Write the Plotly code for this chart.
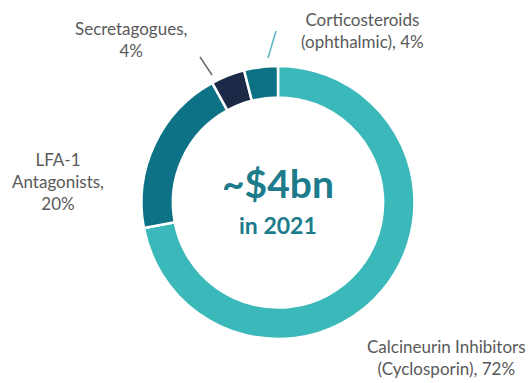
import plotly.graph_objects as go

# Market segments, clockwise from 12 o'clock
segments = ["Calcineurin Inhibitors (Cyclosporin)", "LFA-1 Antagonists",
            "Secretagogues", "Corticosteroids (ophthalmic)"]
shares = [72, 20, 4, 4]
colors = ["#3BB9BA", "#0D7285", "#1B2A47", "#0C7183"]

W, H = 531, 383
FONT = "Lato"
LABEL_COLOR = "#595959"


def px(x):
    return x / W


def py(y):
    return 1 - y / H


fig = go.Figure(go.Pie(
    labels=segments,
    values=shares,
    sort=False,
    direction="clockwise",
    rotation=0,
    hole=0.77,
    marker=dict(colors=colors, line=dict(color="white", width=2.5)),
    textinfo="none",
    hoverinfo="label+percent",
    showlegend=False,
    domain=dict(x=[px(141.5), px(414.5)], y=[py(339), py(66)]),
))

labels = [
    (f"{segments[2].split()[0]},<br>{shares[2]}%", 131, 40),
    ("Corticosteroids<br>(ophthalmic), " + f"{shares[3]}%", 362, 31),
    ("LFA-1<br>Antagonists,<br>" + f"{shares[1]}%", 58, 181),
    ("Calcineurin Inhibitors<br>(Cyclosporin), " + f"{shares[0]}%", 446, 357),
]
annotations = [
    dict(text=t, x=px(x), y=py(y), xref="paper", yref="paper",
         showarrow=False, align="center", xanchor="center", yanchor="middle",
         font=dict(family=FONT, size=17, color=LABEL_COLOR))
    for t, x, y in labels
]
annotations += [
    dict(text="<b>~$4bn</b>", x=px(278), y=py(183), xref="paper", yref="paper",
         showarrow=False, font=dict(family=FONT, size=39, color="#1C7C8C")),
    dict(text="<b>in 2021</b>", x=px(278), y=py(225), xref="paper", yref="paper",
         showarrow=False, font=dict(family=FONT, size=23, color="#1C7C8C")),
]

shapes = [
    dict(type="line", xref="paper", yref="paper",
         x0=px(200), y0=py(57), x1=px(212), y1=py(75),
         line=dict(color="#6B6B6B", width=1.5)),
    dict(type="line", xref="paper", yref="paper",
         x0=px(276), y0=py(31), x1=px(268), y1=py(58),
         line=dict(color="#5BB5BE", width=1.5)),
]

fig.update_layout(
    width=W, height=H,
    margin=dict(l=0, r=0, t=0, b=0),
    paper_bgcolor="white",
    plot_bgcolor="white",
    annotations=annotations,
    shapes=shapes,
)

fig.write_html("out.html")
